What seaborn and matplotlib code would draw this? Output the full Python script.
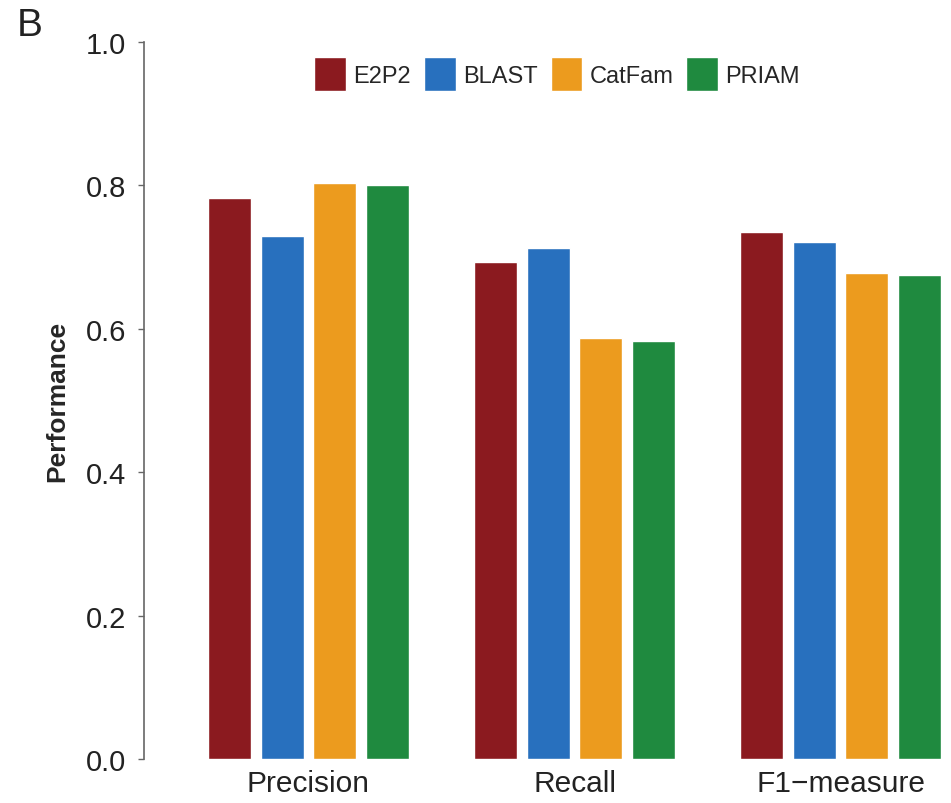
import matplotlib
matplotlib.use("Agg")
import matplotlib.pyplot as plt
import seaborn as sns
import pandas as pd

metrics = ["Precision", "Recall", "F1\u2212measure"]
methods = ["E2P2", "BLAST", "CatFam", "PRIAM"]
e2p2 = [0.782, 0.693, 0.735]
blast = [0.729, 0.713, 0.721]
catfam = [0.803, 0.587, 0.678]
priam = [0.800, 0.583, 0.675]
colors = ["#8B1A1F", "#2870BE", "#EC9B1E", "#1F8A3F"]
yticks = [0.0, 0.2, 0.4, 0.6, 0.8, 1.0]

rows = []
for name, vals in zip(methods, [e2p2, blast, catfam, priam]):
    for m, v in zip(metrics, vals):
        rows.append({"Metric": m, "Method": name, "Performance": v})
df = pd.DataFrame(rows)

sns.set_theme(style="white")
plt.rcParams["font.family"] = ["Liberation Sans", "DejaVu Sans"]

fig = plt.figure(figsize=(9.51, 8.04), dpi=100)
ax = fig.add_axes([144/951, 1-760/804, 1-144/951, 717/804])

sns.barplot(data=df, x="Metric", y="Performance", hue="Method",
            order=metrics, hue_order=methods, palette=colors,
            width=0.79, gap=0.18, saturation=1, ax=ax, legend=True)

ax.set_ylim(0, 1)
ax.set_xlim(-0.618, 2.415)
ax.set_yticks(yticks)
ax.set_yticklabels([f"{t:.1f}" for t in yticks])
for s in ["top", "right", "bottom"]:
    ax.spines[s].set_visible(False)
ax.spines["left"].set_color("#666666")
ax.spines["left"].set_linewidth(1.2)
ax.tick_params(axis="y", which="both", left=True, length=4, width=1.0,
               color="#666666", labelsize=21, labelcolor="#222222", pad=9)
ax.tick_params(axis="x", length=0, labelsize=21.5, labelcolor="#222222", pad=7)
ax.set_xlabel("")
ax.set_ylabel("Performance", fontsize=19, fontweight="bold", labelpad=12)

leg = ax.legend(loc="center", bbox_to_anchor=(0.512, 0.955), ncol=4,
                frameon=False, fontsize=17, handlelength=1.35, handleheight=1.85,
                handletextpad=0.3, columnspacing=0.55, borderaxespad=0)

fig.text(30/951, 1-26/804, "B", fontsize=28, ha="center", va="center", color="#222222")

fig.savefig("out.png", dpi=100)
